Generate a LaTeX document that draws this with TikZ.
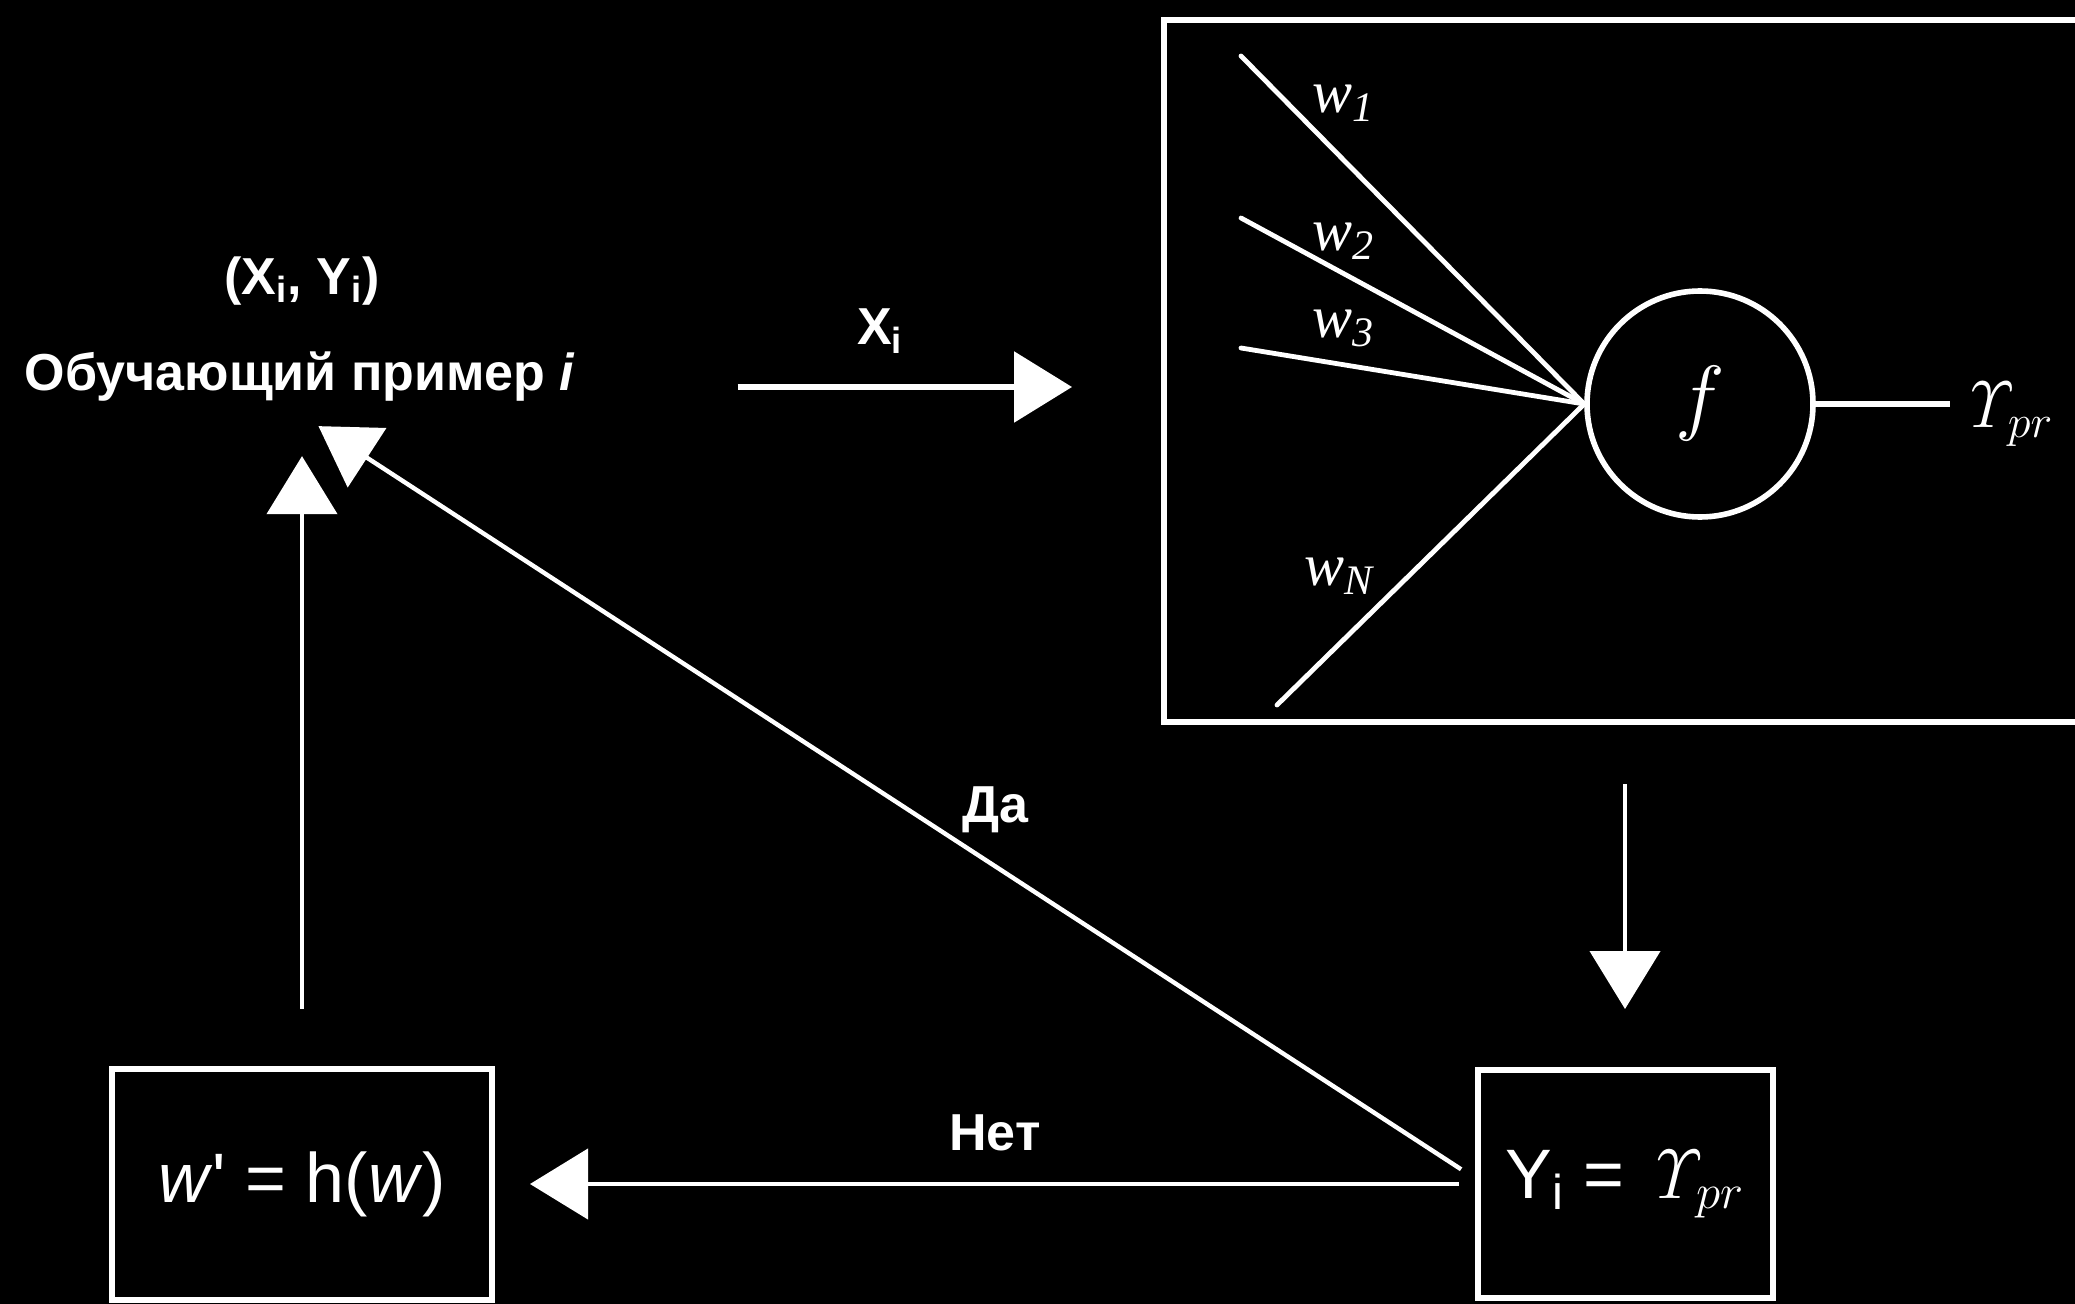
\RequirePackage{fix-cm}
\documentclass[tikz,border=0pt]{standalone}
\usepackage[no-math]{fontspec}
\setmainfont{Liberation Sans}
\newfontfamily\serit{Liberation Serif}
\newfontfamily\rawsans{Liberation Sans}[Ligatures=TeXOff]
\usetikzlibrary{arrows.meta}
\newcommand{\Ypr}{\ensuremath{\mathit{\Upsilon}_{pr}}}
\tikzset{
  every node/.style={text=white, inner sep=0pt},
  lbl/.style={font=\fontsize{26}{30}\selectfont\bfseries},
  big/.style={font=\fontsize{35}{40}\selectfont},
  wlab/.style={font=\fontsize{30}{34}\selectfont\serit\itshape},
  box/.style={draw=white, line width=3pt},
  conn/.style={draw=white, line width=2.2pt},
  inl/.style={draw=white, line width=2.4pt, line cap=round},
  arr/.style={conn, -{Triangle[length=29pt,width=35pt]}},
}
\begin{document}
\begin{tikzpicture}[x=0.5pt,y=-0.5pt]
\fill[black] (0,0) rectangle (2075,1304);
\useasboundingbox (0,0) rectangle (2075,1304);

% training example
\node[lbl] (pair) at (302,281) {(X\textsubscript{i}, Y\textsubscript{i})};
\node[lbl] (ex) at (300,377) {Обучающий пример \textit{i}};

% neuron box
\node[box, minimum width=518pt, minimum height=351pt] (nbox) at (1682,371) {};
\node[draw=white, circle, line width=2.8pt, minimum size=113pt] (neu) at (1700,404) {};
\node[font=\fontsize{42}{46}\selectfont] (f) at (neu) {$f$};

\coordinate (i1) at (1241,56);
\coordinate (i2) at (1241,218);
\coordinate (i3) at (1241,348);
\coordinate (iN) at (1277,705);
\draw[inl] (i1) -- (neu.west);
\draw[inl] (i2) -- (neu.west);
\draw[inl] (i3) -- (neu.west);
\draw[inl] (iN) -- (neu.west);
\node[wlab] (w1) at (1343,103) {w\textsubscript{1}};
\node[wlab] (w2) at (1343,241) {w\textsubscript{2}};
\node[wlab] (w3) at (1343,328) {w\textsubscript{3}};
\node[wlab] (wN) at (1339,576) {w\textsubscript{N}};

\node[font=\fontsize{33}{36}\selectfont, anchor=west] (ypr) at (1958,414) {\Ypr};
\draw[conn, line width=2.8pt, shorten >=4pt] (neu.east) -- (neu.east -| ypr.west);

% bottom boxes
\node[box, big, minimum width=190pt, minimum height=115.5pt] (wb) at (302,1184)
  {\textit{w}{\rawsans '} = h(\textit{w})};
\node[box, big, minimum width=147.5pt, minimum height=114pt] (yb) at (1625,1184)
  {Y\textsubscript{i} = \Ypr};

% connectors
\draw[arr, line width=3pt, shorten <=81pt, shorten >=44.5pt] ([yshift=-5pt]ex.east) -- ([yshift=-5pt]ex.east -| nbox.west);
\node[lbl] (xl) at (880,331) {X\textsubscript{i}};

\draw[arr, shorten <=29.5pt, shorten >=29pt] (nbox.south -| yb.north) -- (yb.north);

\draw[arr, shorten <=8pt, shorten >=17.5pt] (yb.west) -- (wb.east);
\node[lbl] (no) at (995,1133) {Нет};

\draw[arr, shorten <=28.5pt, shorten >=27pt] (wb.north) -- (ex.south -| wb.north);

\draw[arr, shorten <=8pt, shorten >=11pt] ([yshift=3pt]yb.west) -- ([yshift=-6pt]ex.south);
\node[lbl] (yes) at (995,810) {Да};
\end{tikzpicture}
\end{document}
